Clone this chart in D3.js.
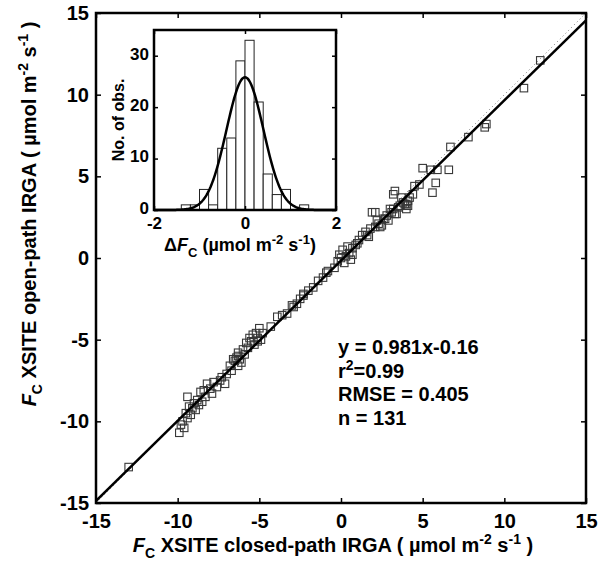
<!DOCTYPE html>
<html>
<head>
<meta charset="utf-8">
<script src="https://cdn.jsdelivr.net/npm/d3@7"></script>
<style>
  body { margin: 0; background: #fff; }
  svg { display: block; font-family: "Liberation Sans", Arial, sans-serif; font-weight: bold; }
</style>
</head>
<body>
<div id="chart"></div>
<script>
// Data: closed-path (x) vs open-path (y) CO2 flux
const closedPath = [
    -13.0, -9.9, -9.6, -9.4, -9.5, -9.1, -8.9, -8.8, -8.5, -9.4, -8.6, -7.9, -8.2, -9.7, -9.2, -8.7, -9.0, -8.3, -7.6, -7.4,
    -7.1, -7.0, -7.3, -6.6, -6.5, -6.3, -6.1, -6.3, -6.3, -5.8, -5.6, -5.4, -5.1, -5.0, -4.8, -5.1, -6.0, -6.8, -5.9, -5.3,
    -5.5, -6.7, -3.9, -3.6, -2.7, -2.3, -2.0, -2.3, -1.4, -0.9, -0.8, -4.3, -3.3, -2.9, -1.7, -1.1, -0.2, 0.2, 0.6, 0.7,
    0.1, 0.4, 0.7, 1.0, 1.3, 1.7, 1.5, 1.8, 2.1, 0.0, -0.4, 0.3, 1.1, -0.1, 2.4, 2.7, 2.6, 2.2, 2.9, 1.9,
    2.1, 3.0, 3.4, 3.3, 3.2, 4.0, 4.1, 4.1, 3.7, 3.2, 3.3, 4.0, 3.6, 2.5, 3.8, 2.8, 4.4, 4.5, 4.8, 5.8,
    5.6, 5.0, 5.5, 5.9, 6.6, 6.7, 7.8, 8.8, 8.9, 11.2, 12.2, -9.8, -9.3, -8.4, -7.8, -6.4, -5.7, -5.2, -4.9, -2.5,
    0.5, 1.6, 2.3, 3.1, 3.5, 4.2, 3.9, -6.2, -8.0, 0.9, -3.0
];
const openPath = [
    -12.8, -10.7, -10.4, -9.8, -9.5, -9.2, -9.3, -8.7, -8.8, -8.5, -8.2, -8.3, -7.7, -10.0, -9.6, -9.0, -8.9, -8.5, -7.9, -7.5,
    -7.7, -7.1, -7.3, -6.2, -6.3, -6.6, -6.4, -5.8, -6.0, -5.2, -4.9, -4.7, -5.1, -4.3, -4.6, -4.9, -5.6, -6.6, -5.9, -5.3,
    -5.1, -6.9, -3.6, -3.5, -2.8, -2.3, -2.0, -2.2, -1.4, -0.9, -0.8, -4.2, -3.4, -3.0, -1.8, -1.2, -0.2, -0.3, -0.1, 0.2,
    0.5, 0.7, 0.6, 0.9, 1.4, 1.3, 1.6, 1.8, 1.9, 0.0, -0.6, 0.1, 1.1, 0.2, 1.9, 2.4, 2.4, 2.3, 2.3, 2.8,
    2.8, 3.0, 2.7, 2.7, 3.0, 3.3, 3.2, 3.5, 3.7, 3.9, 4.1, 3.0, 3.2, 2.0, 3.4, 2.6, 3.9, 4.4, 4.5, 4.6,
    4.0, 5.5, 5.4, 5.4, 5.4, 6.8, 7.4, 8.0, 8.2, 10.4, 12.1, -10.2, -9.1, -8.1, -7.6, -6.1, -5.5, -4.6, -5.0, -2.5,
    0.3, 1.4, 2.1, 2.8, 3.1, 3.7, 3.3, -6.2, -8.0, 0.8, -2.9
];

// Regression stats shown on the chart
const fitSlope = 0.981;
const fitIntercept = -0.16;
const rmse = 0.405;
const statLines = ['y = 0.981x-0.16', 'r2=0.99', 'RMSE = 0.405', 'n = 131'];

// Histogram of differences (inset)
const binCenters = [-1.3, -1.1, -0.9, -0.7, -0.5, -0.3, -0.1, 0.1, 0.3, 0.5, 0.7, 0.9, 1.1, 1.3];
const binCounts = [1, 1, 4, 1, 12, 14, 29, 33, 21, 7, 3, 4, 0, 1];
const binWidth = 0.2;

const mainTicks = [-15, -10, -5, 0, 5, 10, 15];
const insetXTicks = [-2, 0, 2];
const insetYTicks = [0, 10, 20, 30];

const W = 599, H = 571;
const svg = d3.select('#chart').append('svg').attr('width', W).attr('height', H);

// Main plot
const x = d3.scaleLinear().domain([-15, 15]).range([96, 586]);
const y = d3.scaleLinear().domain([-15, 15]).range([503, 13]);

// 1:1 line (dotted)
svg.append('line')
    .attr('x1', x(-15)).attr('y1', y(-15)).attr('x2', x(15)).attr('y2', y(15))
    .attr('stroke', '#777').attr('stroke-width', 1).attr('stroke-dasharray', '1,3');

// points
svg.append('g').selectAll('rect')
    .data(closedPath.map((d, i) => [d, openPath[i]]))
    .join('rect')
    .attr('x', d => x(d[0]) - 3.75)
    .attr('y', d => y(d[1]) - 3.75)
    .attr('width', 7.5).attr('height', 7.5)
    .attr('fill', 'none').attr('stroke', '#383838').attr('stroke-width', 1.1);

// regression line
svg.append('line')
    .attr('x1', x(-15)).attr('y1', y(fitSlope * -15 + fitIntercept))
    .attr('x2', x(15)).attr('y2', y(fitSlope * 15 + fitIntercept))
    .attr('stroke', '#000').attr('stroke-width', 2.5);

const fmt = d => String(d);   // plain hyphen minus, like the original

// axes with inward ticks on all four sides
function frameAxes(g, sx, sy, xt, yt, tick, fs) {
    const [x0, x1] = sx.range();
    const [y0, y1] = sy.range();
    g.append('g').attr('class', 'bx').attr('transform', `translate(0,${y0})`)
        .call(d3.axisBottom(sx).tickValues(xt).tickSize(-tick).tickSizeOuter(0).tickFormat(fmt));
    g.append('g').attr('transform', `translate(0,${y1})`)
        .call(d3.axisTop(sx).tickValues(xt).tickSize(-tick).tickSizeOuter(0).tickFormat(''));
    g.append('g').attr('class', 'ly').attr('transform', `translate(${x0},0)`)
        .call(d3.axisLeft(sy).tickValues(yt).tickSize(-tick).tickSizeOuter(0).tickFormat(fmt));
    g.append('g').attr('transform', `translate(${x1},0)`)
        .call(d3.axisRight(sy).tickValues(yt).tickSize(-tick).tickSizeOuter(0).tickFormat(''));
    g.selectAll('.domain').remove();
    g.selectAll('.tick line').attr('stroke', '#000').attr('stroke-width', 1.5);
    g.selectAll('.tick text').attr('fill', '#000')
        .style('font-size', fs + 'px').style('font-family', '"Liberation Sans", Arial, sans-serif').style('font-weight', 'bold');
    g.append('rect').attr('x', x0).attr('y', y1).attr('width', x1 - x0).attr('height', y0 - y1)
        .attr('fill', 'none').attr('stroke', '#000').attr('stroke-width', 2.5);
    return g;
}

const mainAx = svg.append('g');
frameAxes(mainAx, x, y, mainTicks, mainTicks, 5, 20);
mainAx.select('.bx').selectAll('.tick text').attr('y', 11);
mainAx.select('.ly').selectAll('.tick text').attr('x', -7);

// stats text
const stats = svg.append('g').attr('font-size', 20);
statLines.forEach((s, i) => {
    const t = stats.append('text').attr('x', 338).attr('y', 354 + i * 23.5);
    if (s.startsWith('r2')) {
        t.append('tspan').text('r');
        t.append('tspan').attr('dy', -8).attr('font-size', 14).text('2');
        t.append('tspan').attr('dy', 8).text(s.slice(2));
    } else {
        t.text(s);
    }
});

// axis labels
function fluxLabel(t, main, sub) {
    t.append('tspan').attr('font-style', 'italic').text('F');
    t.append('tspan').attr('font-size', sub).attr('dy', 6).text('C');
    t.append('tspan').attr('dy', -6).text(main + ' ( \u00b5mol m');
    t.append('tspan').attr('font-size', sub).attr('dy', -8).text('-2');
    t.append('tspan').attr('dy', 8).text('  s');
    t.append('tspan').attr('font-size', sub).attr('dy', -8).text('-1');
    t.append('tspan').attr('dy', 8).text(' )');
}
const xLab = svg.append('text').attr('x', 333).attr('y', 552).attr('text-anchor', 'middle').attr('font-size', 20);
fluxLabel(xLab, ' XSITE closed-path IRGA', 14);
const yLab = svg.append('text').attr('transform', 'translate(36,214) rotate(-90)').attr('text-anchor', 'middle').attr('font-size', 20);
fluxLabel(yLab, ' XSITE open-path IRGA', 14);

// Inset histogram
const ix = d3.scaleLinear().domain([-2, 2]).range([154, 336]);
const iy = d3.scaleLinear().domain([0, 35]).range([210, 30]);
const inset = svg.append('g');
inset.append('rect').attr('x', 154).attr('y', 30).attr('width', 182).attr('height', 180).attr('fill', '#fff');

inset.append('g').selectAll('rect')
    .data(binCenters.map((c, i) => ({ c, n: binCounts[i] })).filter(d => d.n > 0))
    .join('rect')
    .attr('x', d => ix(d.c - binWidth / 2))
    .attr('y', d => iy(d.n))
    .attr('width', d => ix(d.c + binWidth / 2) - ix(d.c - binWidth / 2))
    .attr('height', d => iy(0) - iy(d.n))
    .attr('fill', '#fff').attr('stroke', '#222').attr('stroke-width', 1);

// fitted normal curve: mean 0, sd = rmse, scaled to counts
const nObs = d3.sum(binCounts);
const curve = d3.range(-2, 2.001, 0.02).map(v => [v, nObs * binWidth / (rmse * Math.sqrt(2 * Math.PI)) * Math.exp(-v * v / (2 * rmse * rmse))]);
inset.append('path')
    .attr('d', d3.line().x(d => ix(d[0])).y(d => iy(d[1]))(curve))
    .attr('fill', 'none').attr('stroke', '#000').attr('stroke-width', 2.5);

const insetAx = inset.append('g');
frameAxes(insetAx, ix, iy, insetXTicks, insetYTicks, 4, 17);
insetAx.select('.bx').selectAll('.tick text').attr('y', 7);
insetAx.select('.ly').selectAll('.tick text').attr('x', -5).attr('dy', '0.2em');

const ixLab = svg.append('text').attr('x', 240).attr('y', 251).attr('text-anchor', 'middle').attr('font-size', 18);
ixLab.append('tspan').text('\u0394');
ixLab.append('tspan').attr('font-style', 'italic').text('F');
ixLab.append('tspan').attr('font-size', 13).attr('dy', 6).text('C');
ixLab.append('tspan').attr('dy', -6).text(' (\u00b5mol m');
ixLab.append('tspan').attr('font-size', 13).attr('dy', -7).text('-2');
ixLab.append('tspan').attr('dy', 7).text('  s');
ixLab.append('tspan').attr('font-size', 13).attr('dy', -7).text('-1');
ixLab.append('tspan').attr('dy', 7).text(')');

svg.append('text').attr('transform', 'translate(124,120) rotate(-90)').attr('text-anchor', 'middle')
    .attr('font-size', 16).text('No. of obs.');
</script>
</body>
</html>
